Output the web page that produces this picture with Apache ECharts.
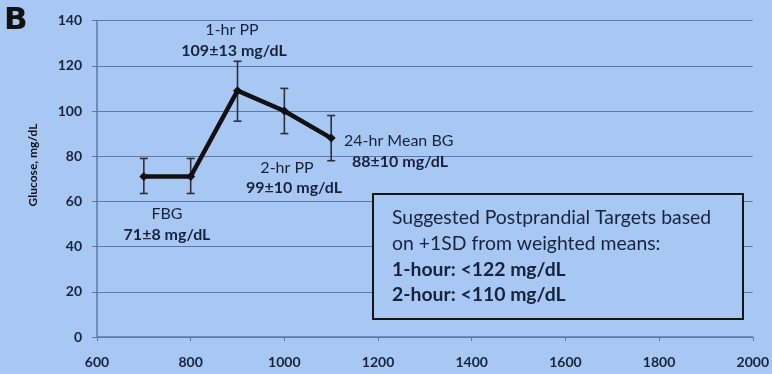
<!DOCTYPE html>
<html>
<head>
<meta charset="utf-8">
<script src="https://cdn.jsdelivr.net/npm/echarts@6/dist/echarts.min.js"></script>
<style>
html,body{margin:0;padding:0;background:#a8c8f4;}
#chart{width:772px;height:374px;}
</style>
</head>
<body>
<div id="chart"></div>
<script>
// ---- data ----
var timesMin = [700, 800, 900, 1000, 1100];
var glucoseMean = [71, 71, 109, 100, 88];
var glucoseLow = [63.5, 63.5, 95.5, 90, 78];
var glucoseHigh = [79, 79, 122, 110, 98];
var xTicks = [600, 800, 1000, 1200, 1400, 1600, 1800, 2000];
var yTicks = [0, 20, 40, 60, 80, 100, 120, 140];
var pointLabels = [
  {name: '1-hr PP', value: '109\u00b113 mg/dL'},
  {name: '24-hr Mean BG', value: '88\u00b110 mg/dL'},
  {name: '2-hr PP', value: '99\u00b110 mg/dL'},
  {name: 'FBG', value: '71\u00b18 mg/dL'}
];
var boxLines = [
  'Suggested Postprandial Targets based',
  'on +1SD from weighted means:',
  '1-hour: <122 mg/dL',
  '2-hour: <110 mg/dL'
];

var BG = '#a8c8f4';
var TXT = '#18223c';
var FONT = 'Lato, "Open Sans", sans-serif';

var chart = echarts.init(document.getElementById('chart'));

var lineData = timesMin.map(function(t, i){ return [t, glucoseMean[i]]; });
var errData = timesMin.map(function(t, i){ return [t, glucoseLow[i], glucoseHigh[i]]; });

function annot(text, x, y, bold, align) {
  return {
    type: 'text', x: x, y: y, z: 20,
    style: {
      text: text, x: 0, y: 0,
      textAlign: align || 'center', textVerticalAlign: 'middle',
      fill: TXT, font: (bold ? 'bold ' : '') + '16px ' + FONT
    }
  };
}

var graphics = [
  {type: 'text', x: 4, y: 21, style: {text: 'B', textVerticalAlign: 'middle', fill: '#111', font: 'bold 31px "DejaVu Sans", sans-serif'}},
  {type: 'text', x: 33, y: 165, rotation: Math.PI / 2, style: {text: 'Glucose, mg/dL', textAlign: 'center', textVerticalAlign: 'middle', fill: '#111', font: 'bold 12px ' + FONT}},
  annot(pointLabels[0].name, 232, 30, false),
  annot(pointLabels[0].value, 234, 51, true),
  annot(pointLabels[1].name, 344, 141, false, 'left'),
  annot(pointLabels[1].value, 352, 162, true, 'left'),
  annot(pointLabels[2].name, 287, 168, false),
  annot(pointLabels[2].value, 294, 188, true),
  annot(pointLabels[3].name, 167, 214, false),
  annot(pointLabels[3].value, 167, 235, true),
  {type: 'rect', z: 15, shape: {x: 373, y: 194, width: 370, height: 125}, style: {fill: BG, stroke: '#151515', lineWidth: 2}}
];
var boxY = [218, 244, 270, 295];
boxLines.forEach(function(t, i){
  graphics.push({type: 'text', z: 20, x: 392, y: boxY[i], style: {text: t, textVerticalAlign: 'middle', fill: TXT, font: (i >= 2 ? 'bold ' : '') + '19.4px ' + FONT}});
});

chart.setOption({
  backgroundColor: BG,
  animation: false,
  grid: {left: 97, right: 13, top: 20.6, bottom: 37},
  xAxis: {
    type: 'value', min: xTicks[0], max: xTicks[xTicks.length - 1], interval: 200,
    axisLine: {lineStyle: {color: '#5b7aa8', width: 1.5}},
    axisTick: {show: true, length: 4, lineStyle: {color: '#5b7aa8'}},
    splitLine: {show: false},
    axisLabel: {color: TXT, fontWeight: 'bold', fontSize: 14, fontFamily: FONT, margin: 18,
      formatter: function(v){ return String(v); }}
  },
  yAxis: {
    type: 'value', min: yTicks[0], max: yTicks[yTicks.length - 1], interval: 20,
    axisLine: {show: true, lineStyle: {color: '#5b7aa8', width: 1.5}},
    axisTick: {show: true, length: 5, lineStyle: {color: '#5b7aa8'}},
    splitLine: {lineStyle: {color: '#5b7aa8', width: 1}},
    axisLabel: {color: TXT, fontWeight: 'bold', fontSize: 14, fontFamily: FONT, margin: 15,
      formatter: function(v){ return String(v); }}
  },
  series: [
    {
      type: 'custom', z: 3,
      data: errData,
      renderItem: function(params, api){
        var x = api.value(0);
        var lo = api.coord([x, api.value(1)]);
        var hi = api.coord([x, api.value(2)]);
        var w = 4;
        var st = {stroke: '#2b2f3a', lineWidth: 1.6};
        return {type: 'group', children: [
          {type: 'line', shape: {x1: lo[0], y1: lo[1], x2: hi[0], y2: hi[1]}, style: st},
          {type: 'line', shape: {x1: lo[0] - w, y1: lo[1], x2: lo[0] + w, y2: lo[1]}, style: st},
          {type: 'line', shape: {x1: hi[0] - w, y1: hi[1], x2: hi[0] + w, y2: hi[1]}, style: st}
        ]};
      }
    },
    {
      type: 'line', z: 5,
      data: lineData,
      symbol: 'diamond', symbolSize: 9,
      itemStyle: {color: '#111'},
      lineStyle: {color: '#111', width: 4.5}
    }
  ],
  graphic: graphics
});
</script>
</body>
</html>
